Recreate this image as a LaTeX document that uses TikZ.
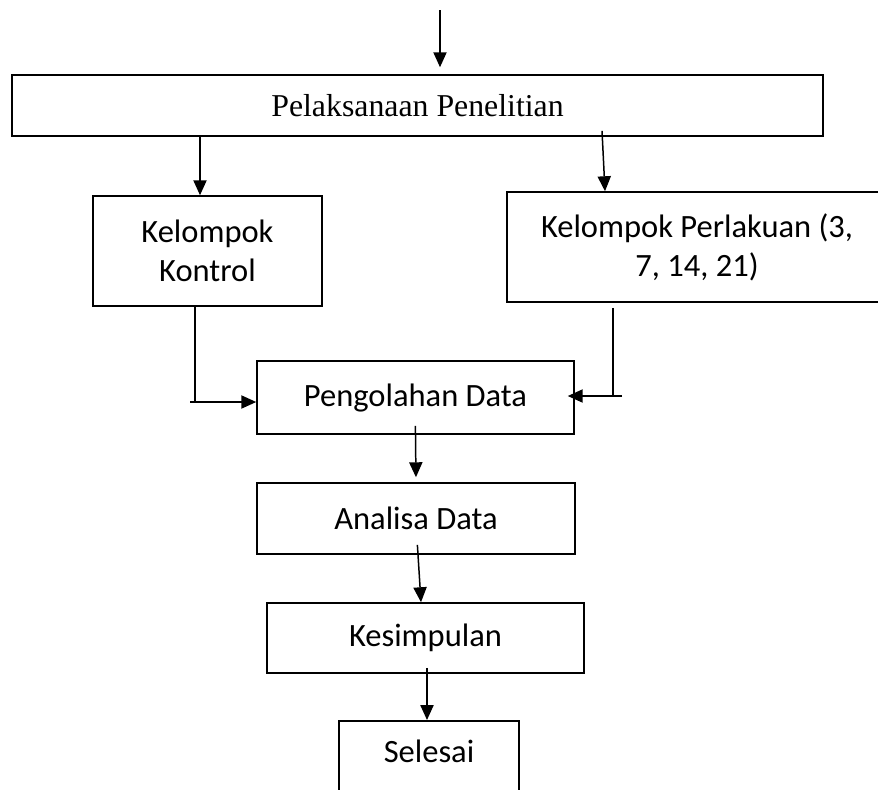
\documentclass[tikz,border=0pt]{standalone}
\usepackage{fontspec}
\setmainfont{Carlito}
\newfontfamily\timesfont{Liberation Serif}
\usepackage{tikz}
\usetikzlibrary{arrows.meta,calc}
\tikzset{
  >={Triangle[length=8.5pt,width=7.5pt]},
  stage/.style ={draw=black,fill=white,line width=0.9pt,align=center,
                 font=\fontsize{18.5}{22.1}\selectfont},
  flow/.style  ={->,draw=black,line width=0.85pt},
  wire/.style  ={draw=black,line width=0.85pt},
}
\begin{document}
\begin{tikzpicture}
\useasboundingbox (0,0) rectangle (17.56,-15.78);
% boxes
\node[stage,font=\timesfont\fontsize{18.1}{22.1}\selectfont,
      minimum width=162.2mm,minimum height=12.2mm] (pel) at (8.35,-2.11) {Pelaksanaan Penelitian};
\node[stage,minimum width=45.8mm,minimum height=22mm] (kontrol) at (4.15,-5.02) {Kelompok\\Kontrol};
\node[stage,minimum width=76mm,minimum height=22mm] (perlakuan) at (13.94,-4.94)
  {Kelompok Perlakuan (3,\\7, 14, 21)};
\node[stage,minimum width=63.4mm,minimum height=14.6mm] (olah) at (8.31,-7.95) {Pengolahan Data};
\node[stage,minimum width=63.6mm,minimum height=14.2mm] (analisa) at (8.32,-10.37) {Analisa Data};
\node[stage,minimum width=63.4mm,minimum height=14mm] (simpul) at (8.51,-12.76) {Kesimpulan};
\node[stage,minimum width=36mm,text height=6.4mm,text depth=5.6mm,inner ysep=2mm,
      anchor=north] (selesai) at (8.58,-14.4) {Selesai};
% top and split
\coordinate (top) at (8.8,-0.2);
\draw[flow,shorten >=1.4mm] (top) -- (top |- pel.north);
\coordinate (kl) at (4.0,0);
\draw[flow] (pel.south -| kl) -- (kontrol.north -| kl);
\draw[flow] ($(pel.south)+(3.69,0.12)$) -- ($(perlakuan.north)+(-1.84,0)$);
% join into processing
\coordinate (kd) at (3.9,-8.04);
\coordinate (jl) at (3.8,-8.04);
\draw[wire] (kontrol.south -| kd) -- (kd);
\draw[flow] (jl) -- (olah.west |- jl);
\coordinate (pd) at (12.26,-7.92);
\coordinate (jr) at (12.44,-7.92);
\draw[wire,shorten <=1mm] (perlakuan.south -| pd) -- (pd);
\draw[flow,shorten >=-1.4mm] (jr) -- (olah.east |- jr);
% down the chain
\draw[flow,shorten <=-1.8mm,shorten >=1mm] (olah.south) -- (analisa.north);
\draw[flow,shorten <=-2mm] ($(analisa.south)+(0.04,0)$) -- ($(simpul.north)+(-0.09,0)$);
\coordinate (sx) at (8.54,0);
\draw[flow,shorten <=-1.2mm] (simpul.south -| sx) -- (selesai.north -| sx);
\end{tikzpicture}
\end{document}
